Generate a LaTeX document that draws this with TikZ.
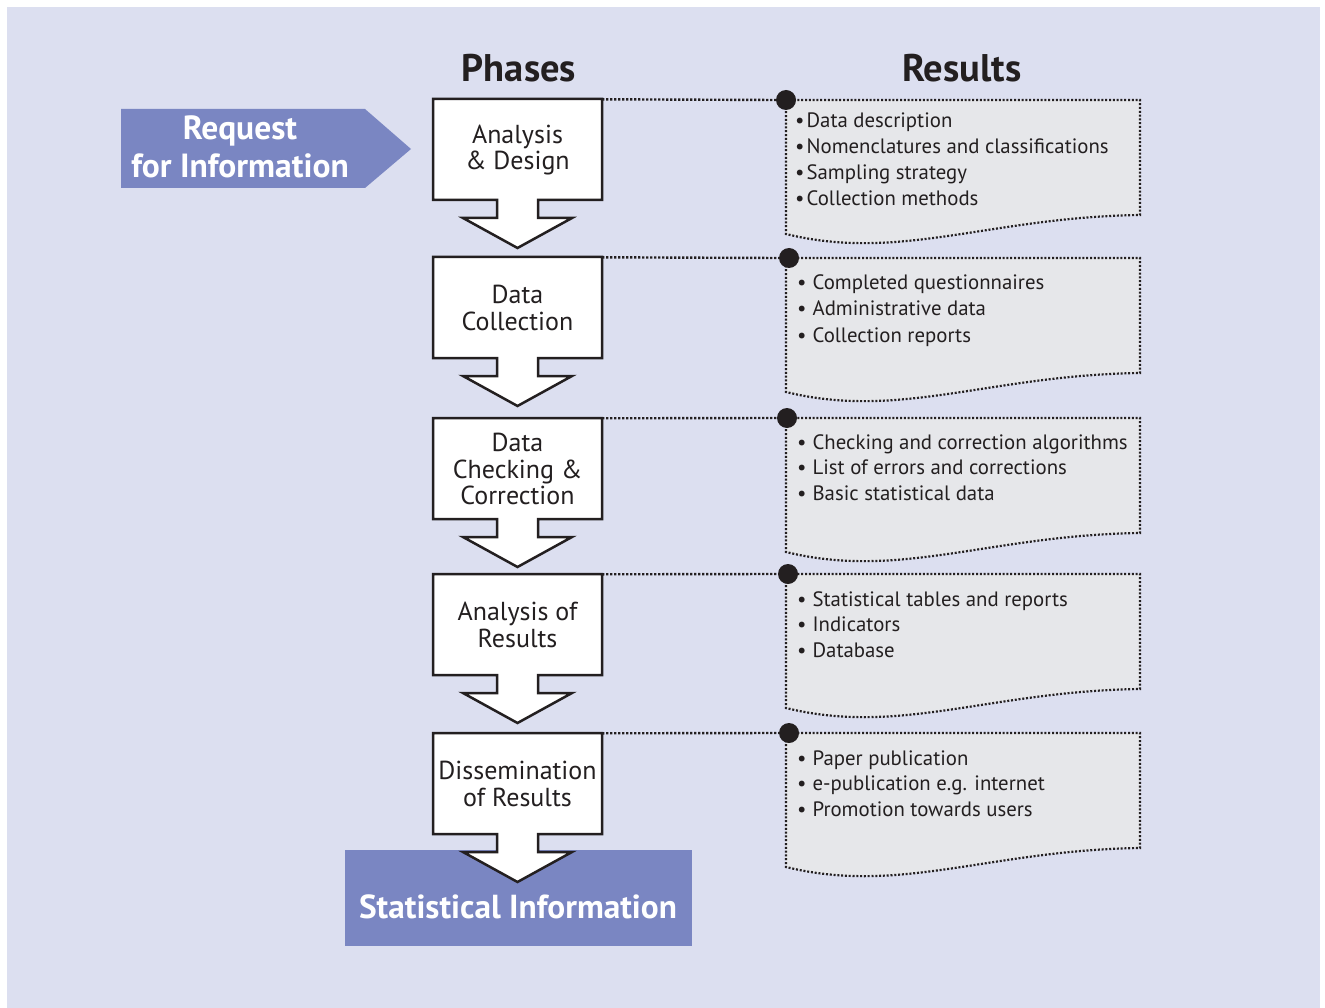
\documentclass[tikz,border=0pt]{standalone}
\usepackage{fontspec}
\setmainfont{PT Sans}
\definecolor{bg}{HTML}{DCDFF0}
\definecolor{blu}{HTML}{7A86C2}
\definecolor{docfill}{HTML}{E6E7EA}
\definecolor{ink}{HTML}{231F20}
\begin{document}
\begin{tikzpicture}[x=1pt,y=-1pt,
 phaseshape/.style={fill=white,draw=ink,line width=2.5pt,line join=miter},
 phasenode/.style={minimum width=169pt,minimum height=101pt,inner sep=0pt,
   font=\fontsize{26}{26.5}\selectfont,text=ink,align=center},
 dotline/.style={draw=ink,line width=2.4pt,dash pattern=on 2.2pt off 1.8pt},
 docshape/.style={fill=docfill,draw=ink,line width=2.2pt,dash pattern=on 2pt off 1.8pt},
 bul/.style={font=\fontsize{20.8}{24}\selectfont,text=ink,anchor=base west,inner sep=0pt},
 hdr/.style={font=\bfseries\fontsize{38.5}{40}\selectfont,text=ink},
 joint/.style={circle,fill=ink,minimum size=20pt,inner sep=0pt},
 whitebold/.style={font=\bfseries\fontsize{33.5}{38}\selectfont,text=white,align=center},
 ]
\useasboundingbox (0,0) rectangle (1325,1008);
\fill[white] (0,0) rectangle (1325,1008);
\fill[bg] (7,7) rectangle (1320,1008);

% headers
\node[hdr] (phases) at (519,68) {Phases};
\node[hdr] (results) at (962,68) {Results};

% request arrow
\fill[blu] (121,109) -- (365,109) -- (411,149) -- (365,188) -- (121,188) -- cycle;
\node[whitebold] (req) at (240,147) {Request\\for Information};

% statistical information box
\fill[blu] (345,850) rectangle (692,946);
\node[font=\bfseries\fontsize{33.3}{36}\selectfont,text=white] (stat) at (518,907) {Statistical Information};

% documents
\foreach \T in {100,258,418,574,733}{
  \path[docshape] (786,\T) -- (1140,\T) -- (1140,\T+115)
     .. controls (990,\T+117) and (900,\T+162) .. (786,\T+134) -- cycle;
}

% phases
\foreach \n/\T/\lab in {p1/99/{Analysis\\\& Design},
                        p2/257/{Data\\Collection},
                        p3/418/{Data\\Checking \&\\Correction},
                        p4/574/{Analysis of\\Results},
                        p5/733/{Dissemination\\of Results}}{
  \path[phaseshape] (433,\T) -- (602,\T) -- (602,\T+101) -- (538,\T+101) -- (538,\T+119)
     -- (572,\T+119) -- (517.5,\T+149) -- (463,\T+119) -- (497,\T+119) -- (497,\T+101)
     -- (433,\T+101) -- cycle;
  \node[phasenode] (\n) at (517.5,\T+51) {\lab};
}

% joints
\node[joint] (d1) at (786,100) {};
\node[joint] (d2) at (789,258) {};
\node[joint] (d3) at (787,418) {};
\node[joint] (d4) at (788,574) {};
\node[joint] (d5) at (789,733) {};
\foreach \i in {1,...,5}{
  \draw[dotline] (p\i.north east) -- (d\i.west);
}

% result texts
\foreach \txt [count=\k] in {Data description, Nomenclatures and classifications, Sampling strategy, Collection methods}
  \node[bul] (ra\k) at (795,{128+(\k-1)*25.67}) {\textbullet\hspace{2pt}\txt};
\foreach \txt [count=\k] in {Completed questionnaires, Administrative data, Collection reports}
  \node[bul] (rb\k) at (797,{290+(\k-1)*26}) {\textbullet\hspace{6pt}\txt};
\foreach \txt [count=\k] in {Checking and correction algorithms, List of errors and corrections, Basic statistical data}
  \node[bul] (rc\k) at (797,{449+(\k-1)*25.67}) {\textbullet\hspace{6pt}\txt};
\foreach \txt [count=\k] in {Statistical tables and reports, Indicators, Database}
  \node[bul] (rd\k) at (797,{606+(\k-1)*25.67}) {\textbullet\hspace{6pt}\txt};
\foreach \txt [count=\k] in {Paper publication, e-publication e.g. internet, Promotion towards users}
  \node[bul] (re\k) at (797,{765+(\k-1)*25.67}) {\textbullet\hspace{6pt}\txt};
\end{tikzpicture}
\end{document}
